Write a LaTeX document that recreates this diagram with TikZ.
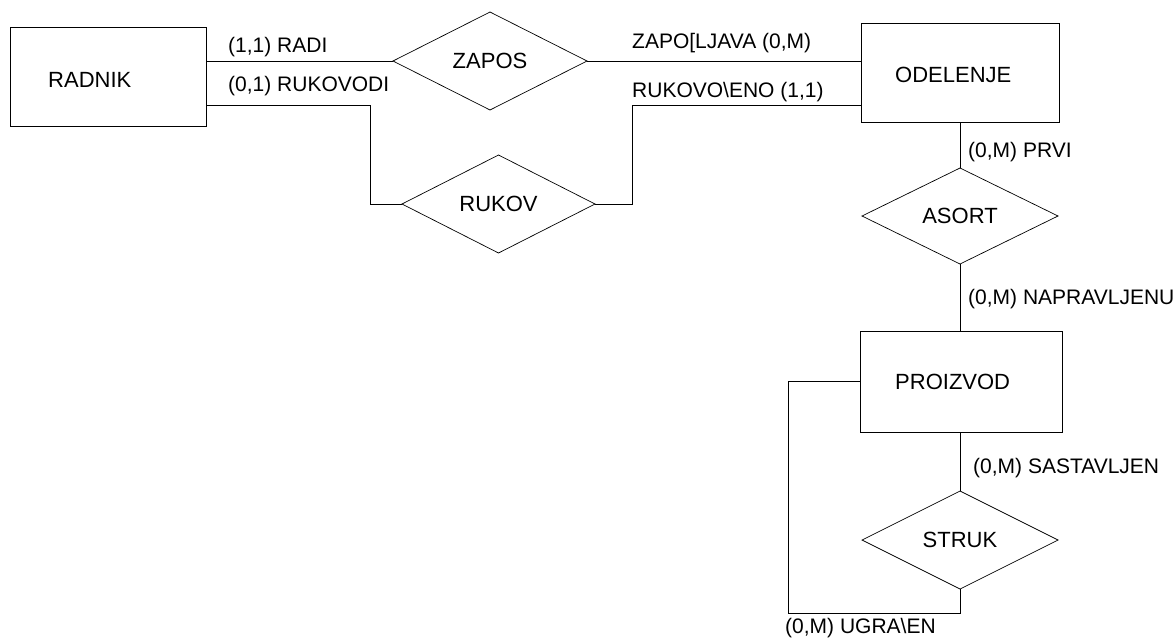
\documentclass[tikz,border=0pt]{standalone}
\usepackage{fontspec}
\setmainfont{Liberation Sans}
\usetikzlibrary{shapes.geometric}
\begin{document}
\begin{tikzpicture}[x=1pt,y=-1pt,
  entity/.style={draw, rectangle, line width=0.9pt, minimum width=#1,
    minimum height=99pt, inner sep=0pt, outer sep=0pt},
  entity/.default=198pt,
  relation/.style={draw, diamond, aspect=2, line width=0.7pt,
    minimum width=194pt, minimum height=98pt, inner sep=0pt, outer sep=0pt,
    font=\fontsize{22}{26}\selectfont},
  entname/.style={anchor=base west, inner sep=0pt, font=\fontsize{22}{26}\selectfont},
  card/.style={anchor=base west, inner sep=0pt, font=\fontsize{21}{25}\selectfont},
  link/.style={line width=0.8pt}]
\useasboundingbox (0,0) rectangle (1174,638);

% entities
\node[entity=196pt] (radnik) at (108,76.5) {};
\node[entname] (radnikT) at (48,87) {RADNIK};
\node[entity=198pt] (odelenje) at (960,73) {};
\node[entname] (odelenjeT) at (895,82) {ODELENJE};
\node[entity=202pt, minimum height=101pt] (proizvod) at (961,381.5) {};
\node[entname] (proizvodT) at (895,389) {PROIZVOD};

% relationships
\node[relation] (zapos) at (490,61) {ZAPOS};
\node[relation, minimum width=193pt] (rukov) at (498.5,204) {RUKOV};
\node[relation, minimum width=196pt, minimum height=96pt] (asort) at (960,216) {ASORT};
\node[relation, minimum width=196pt] (struk) at (960,540) {STRUK};

% bend points
\coordinate (rk1) at (370,105);
\coordinate (rk2) at (632,105);
\coordinate (lp) at (788,613);

% connectors
\draw[link] (radnik.east |- zapos.west) -- (zapos.west);
\draw[link] (zapos.east) -- (zapos.east -| odelenje.west);
\draw[link] (radnik.east |- rk1) -- (rk1) |- (rukov.west);
\draw[link] (rukov.east) -| (rk2) -- (rk2 -| odelenje.west);
\draw[link] (odelenje.south) -- (asort.north);
\draw[link] (asort.south) -- (asort.south |- proizvod.north);
\draw[link] (struk.north |- proizvod.south) -- (struk.north);
\draw[link] (proizvod.west) -| (lp) -| (struk.south);

% cardinalities
\node[card] (c1) at (228,52) {(1,1) RADI};
\node[card] (c2) at (228,91) {(0,1) RUKOVODI};
\node[card] (c3) at (632,48) {ZAPO[LJAVA (0,M)};
\node[card] (c4) at (632,97) {RUKOVO\textbackslash ENO (1,1)};
\node[card] (c5) at (968,157) {(0,M) PRVI};
\node[card] (c6) at (968,304) {(0,M) NAPRAVLJENU};
\node[card] (c7) at (973,473) {(0,M) SASTAVLJEN};
\node[card] (c8) at (785,633) {(0,M) UGRA\textbackslash EN};
\end{tikzpicture}
\end{document}
